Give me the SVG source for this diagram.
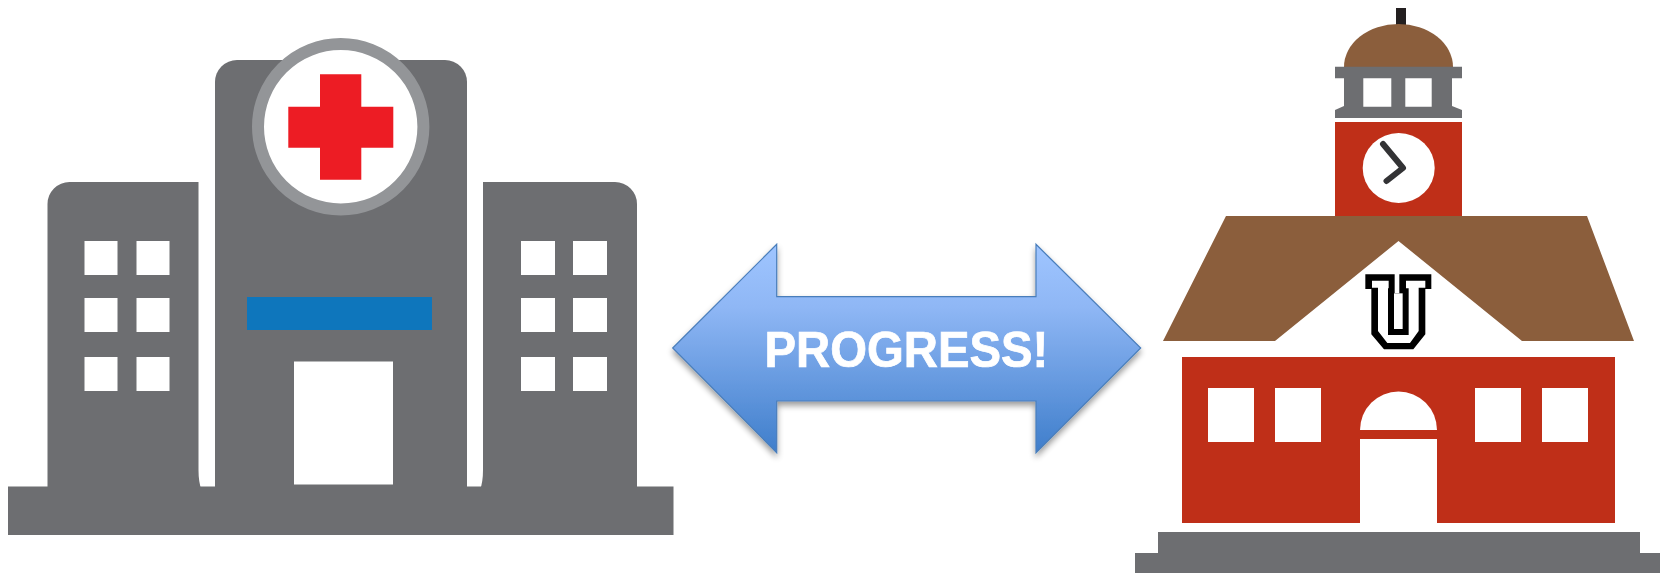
<svg xmlns="http://www.w3.org/2000/svg" width="1660" height="574" viewBox="0 0 1660 574">
<style>
.g{fill:#6d6e71}.w{fill:#fff}.r{fill:#bf2f18}.b{fill:#8b5e3c}
.t{font-family:"Liberation Sans",Arial,sans-serif;font-weight:700;font-size:47.3px;fill:#fff;stroke:#fff;stroke-width:.7}
</style>
<defs>
<linearGradient id="ag" x1="0" y1="0" x2="0" y2="1"><stop offset="0" stop-color="#9fc5ff"/><stop offset="0.3" stop-color="#8fb7f5"/><stop offset="1" stop-color="#3f7ecb"/></linearGradient>
<filter id="sh" x="-5%" y="-10%" width="110%" height="125%"><feGaussianBlur in="SourceAlpha" stdDeviation="3"/><feOffset dy="4"/><feComponentTransfer><feFuncA type="linear" slope="0.4"/></feComponentTransfer><feMerge><feMergeNode/><feMergeNode in="SourceGraphic"/></feMerge></filter>
</defs>
<rect width="1660" height="574" fill="#fff"/>
<g id="hospital">
<rect class="g" x="8" y="486.5" width="665.5" height="48.5"/>
<path class="g" d="M47.5 490V204a22 22 0 0 1 22-22H198.5V470Q198.5 482 201.5 490Z"/>
<path class="g" d="M215 490V82a22 22 0 0 1 22-22H445a22 22 0 0 1 22 22V490Z"/>
<path class="g" d="M483 182H615a22 22 0 0 1 22 22V490H480Q483 482 483 470Z"/>
<circle cx="340.7" cy="126.7" r="82.7" fill="#fff" stroke="#939598" stroke-width="12"/>
<path fill="#ed1c24" d="M320 74.3H361.3V106.7H393.3V147.7H361.3V179.7H320V147.7H288.3V106.7H320Z"/>
<rect x="247" y="297" width="185" height="33" fill="#0e76bc"/>
<rect class="w" x="294" y="361.5" width="99" height="123"/>
<path class="w" d="M84.5 241h33v34h-33zM136.5 241h33v34h-33zM84.5 298h33v34h-33zM136.5 298h33v34h-33zM84.5 357h33v34h-33zM136.5 357h33v34h-33zM521 241h34v34h-34zM573 241h34v34h-34zM521 298h34v34h-34zM573 298h34v34h-34zM521 357h34v34h-34zM573 357h34v34h-34z"/>
</g>
<g id="connectors">
<path filter="url(#sh)" fill="url(#ag)" stroke="#4a7ebb" stroke-width="1.2" d="M672.7 348L776.7 244.3V296.7H1036V244.3L1140.7 348L1036 452.7V401H776.7V452.7Z"/>
<text class="t" transform="translate(764.5 366.8) scale(1 1.05)">PROGRESS!</text>
</g>
<g id="school">
<rect x="1396" y="8" width="10" height="20" fill="#231f20"/>
<path class="b" d="M1344 67A54.5 43 0 0 1 1453 67Z"/>
<path class="g" d="M1335 66.7H1462V78.3H1452V106L1462 110V118H1335V110L1344 106V78.3H1335Z"/>
<path class="w" d="M1363.3 78.3h28v28.4h-28zM1405.3 78.3h26.4v28.4h-26.4z"/>
<rect class="r" x="1335" y="122" width="127" height="95"/>
<ellipse class="w" cx="1398.7" cy="168" rx="36" ry="35"/>
<path d="M1383 144L1403 168L1386.5 181" fill="none" stroke="#333335" stroke-width="6" stroke-linecap="round" stroke-linejoin="round"/>
<path class="b" d="M1226 216H1587L1634 341H1522L1398.5 241L1275 341H1163Z"/>
<path class="r" d="M1182 357H1615V523H1437V439H1360V523H1182Z"/>
<path class="w" d="M1208 388h46v54h-46zM1275 388h46v54h-46zM1475 388h46v54h-46zM1542 388h46v54h-46z"/>
<path class="w" d="M1360 430A38.4 38.4 0 0 1 1437 430Z"/>
<path class="g" d="M1158 532H1640V553H1660V573H1135V553H1158Z"/>
<g transform="translate(1360 265) scale(.3333)">
<path fill="#000" d="M16 28H104V85H118V28H214V72H196V208L160 253H72L34 208V72H16Z"/>
<path class="w" d="M36 47H86V70H84V210H146V70H138V47H196V68H176V198L150 234H82L54 198V68H36Z"/>
<path class="w" d="M102 85H128V192H102Z"/>
</g>
</g>
</svg>
